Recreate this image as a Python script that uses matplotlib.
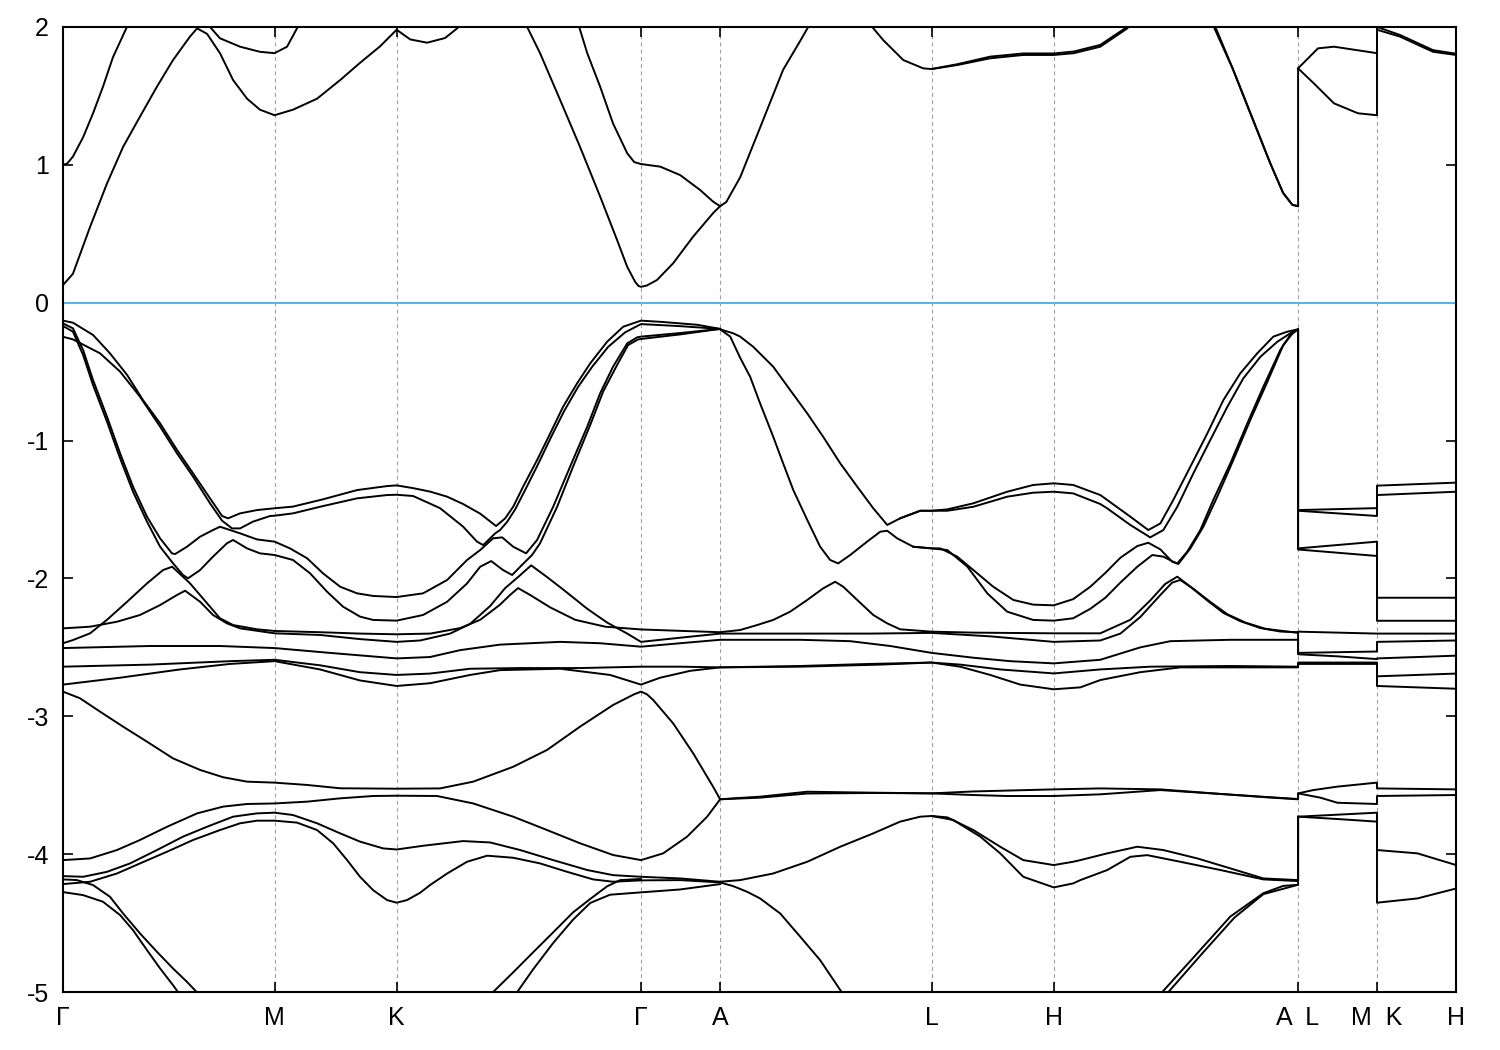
import matplotlib.pyplot as plt

plt.rcParams['font.family'] = ['Liberation Sans', 'DejaVu Sans']
plt.rcParams['axes.unicode_minus'] = False

# high-symmetry points along the k-path (|Gamma-M| = 1)
k_ticks = [0.0, 1.0, 1.5774, 2.7321, 3.1056, 4.1056, 4.6830, 5.8377, 6.2112, 6.5847]
k_labels = ['Γ', 'M', 'K', 'Γ', 'A', 'L', 'H', 'A  L', 'M  K', 'H']
e_ticks = [-5, -4, -3, -2, -1, 0, 1, 2]

# conduction bands, (k, E)
conduction = [
    [(0, 0.128), (0.047, 0.21), (0.128, 0.55), (0.208, 0.865), (0.284, 1.13), (0.364, 1.35), (0.444, 1.567),
     (0.52, 1.76), (0.6, 1.93), (0.634, 1.99), (0.681, 1.95), (0.742, 1.81), (0.804, 1.615), (0.87, 1.48),
     (0.931, 1.40), (1.0, 1.36), (1.087, 1.40), (1.201, 1.48), (1.31, 1.615), (1.404, 1.74), (1.499, 1.86),
     (1.577, 1.98), (1.641, 1.91), (1.721, 1.886), (1.806, 1.92), (1.863, 1.99), (1.901, 2.05)],
    [(2.17, 2.05), (2.194, 2.0), (2.255, 1.81), (2.35, 1.47), (2.444, 1.13), (2.539, 0.77), (2.619, 0.455),
     (2.667, 0.26), (2.705, 0.15), (2.72, 0.122), (2.732, 0.115), (2.76, 0.125), (2.808, 0.165), (2.884, 0.286),
     (2.979, 0.48), (3.073, 0.65), (3.106, 0.70), (3.135, 0.73), (3.201, 0.91), (3.295, 1.27), (3.404, 1.69),
     (3.485, 1.90), (3.541, 2.05)],
    [(0, 1.0), (0.02, 1.01), (0.047, 1.06), (0.095, 1.2), (0.142, 1.374), (0.189, 1.567), (0.236, 1.78),
     (0.284, 1.94), (0.317, 2.05)],
    [(2.421, 2.05), (2.44, 2.0), (2.478, 1.81), (2.539, 1.567), (2.6, 1.3), (2.667, 1.084), (2.7, 1.02),
     (2.732, 1.006), (2.823, 0.987), (2.917, 0.926), (3.012, 0.817), (3.073, 0.733), (3.106, 0.70)],
    [(0.676, 2.05), (0.695, 2.0), (0.742, 1.918), (0.837, 1.857), (0.931, 1.82), (1.0, 1.81), (1.059, 1.857),
     (1.106, 1.99), (1.116, 2.05)],
    [(3.806, 2.05), (3.825, 2.0), (3.877, 1.905), (3.972, 1.76), (4.066, 1.70), (4.106, 1.695), (4.227, 1.724),
     (4.383, 1.773), (4.539, 1.797), (4.683, 1.797), (4.778, 1.81), (4.903, 1.857), (5.031, 1.99), (5.05, 2.05)],
    [(4.106, 1.695), (4.227, 1.73), (4.383, 1.785), (4.539, 1.808), (4.683, 1.808), (4.778, 1.822), (4.903, 1.87),
     (5.02, 1.99), (5.04, 2.05)],
    [(5.433, 2.05), (5.447, 2.0), (5.532, 1.688), (5.626, 1.325), (5.707, 1.01), (5.768, 0.794), (5.811, 0.709),
     (5.838, 0.70), (5.838, 1.70), (5.932, 1.845), (6.008, 1.857), (6.211, 1.81), (6.211, 2.05)],
    [(5.425, 2.05), (5.44, 2.0), (5.528, 1.70), (5.622, 1.335), (5.704, 1.02), (5.766, 0.80), (5.81, 0.712),
     (5.838, 0.70)],
    [(5.838, 1.70), (5.913, 1.59), (6.008, 1.446), (6.121, 1.374), (6.211, 1.36), (6.211, 1.98), (6.32, 1.93),
     (6.476, 1.82), (6.585, 1.797)],
    [(6.211, 2.0), (6.32, 1.942), (6.476, 1.832), (6.585, 1.806)],
]

# upper valence bands (0 .. -2.3 eV)
valence_top = [
    [(0, -0.13), (0.047, -0.145), (0.142, -0.234), (0.222, -0.367), (0.303, -0.524), (0.378, -0.706),
     (0.459, -0.875), (0.539, -1.068), (0.615, -1.238), (0.695, -1.419), (0.752, -1.547), (0.78, -1.564),
     (0.837, -1.528), (0.917, -1.504), (1.0, -1.491), (1.087, -1.479), (1.229, -1.426), (1.39, -1.359),
     (1.532, -1.33), (1.577, -1.325), (1.655, -1.345), (1.735, -1.37), (1.816, -1.407), (1.891, -1.46),
     (1.972, -1.53), (2.047, -1.62), (2.09, -1.564), (2.128, -1.48), (2.175, -1.334), (2.241, -1.141),
     (2.303, -0.948), (2.364, -0.754), (2.43, -0.585), (2.492, -0.44), (2.572, -0.283), (2.648, -0.174),
     (2.732, -0.13), (2.837, -0.14), (2.998, -0.16), (3.106, -0.19)],
    [(0, -0.247), (0.047, -0.266), (0.175, -0.367), (0.27, -0.5), (0.364, -0.682), (0.459, -0.899),
     (0.539, -1.093), (0.615, -1.262), (0.695, -1.455), (0.752, -1.581), (0.799, -1.637), (0.837, -1.637),
     (0.898, -1.588), (0.979, -1.547), (1.0, -1.545), (1.087, -1.528), (1.229, -1.475), (1.39, -1.419),
     (1.532, -1.395), (1.577, -1.393), (1.655, -1.402), (1.782, -1.49), (1.891, -1.624), (1.957, -1.733),
     (1.986, -1.758), (2.019, -1.709), (2.043, -1.673), (2.066, -1.649), (2.099, -1.59), (2.137, -1.5),
     (2.184, -1.36), (2.246, -1.17), (2.307, -0.975), (2.369, -0.785), (2.435, -0.61), (2.501, -0.465),
     (2.577, -0.32), (2.657, -0.215), (2.732, -0.155), (2.917, -0.17), (3.106, -0.19)],
    [(0, -0.15), (0.047, -0.186), (0.095, -0.343), (0.142, -0.561), (0.208, -0.827), (0.27, -1.093),
     (0.331, -1.335), (0.397, -1.552), (0.459, -1.709), (0.515, -1.818), (0.53, -1.823), (0.586, -1.77),
     (0.648, -1.697), (0.709, -1.649), (0.742, -1.625), (0.79, -1.649), (0.837, -1.673), (0.917, -1.717),
     (1.0, -1.733), (1.073, -1.782), (1.154, -1.854), (1.229, -1.963), (1.31, -2.06), (1.39, -2.108),
     (1.466, -2.127), (1.577, -2.135), (1.702, -2.108), (1.816, -2.011), (1.91, -1.866), (1.972, -1.794),
     (2.033, -1.709), (2.076, -1.702), (2.128, -1.77), (2.189, -1.818), (2.241, -1.721), (2.317, -1.48),
     (2.397, -1.189), (2.478, -0.899), (2.539, -0.657), (2.6, -0.464), (2.667, -0.295), (2.714, -0.251),
     (2.732, -0.246), (2.917, -0.22), (3.106, -0.19)],
    [(0, -0.169), (0.047, -0.21), (0.095, -0.379), (0.142, -0.597), (0.208, -0.863), (0.27, -1.129),
     (0.331, -1.371), (0.397, -1.588), (0.459, -1.77), (0.52, -1.89), (0.567, -1.975), (0.591, -1.999),
     (0.648, -1.939), (0.709, -1.842), (0.775, -1.745), (0.804, -1.721), (0.87, -1.782), (0.931, -1.818),
     (1.0, -1.83), (1.087, -1.866), (1.168, -1.963), (1.248, -2.096), (1.324, -2.205), (1.404, -2.277),
     (1.466, -2.301), (1.577, -2.306), (1.702, -2.265), (1.816, -2.169), (1.91, -2.036), (1.972, -1.915),
     (2.024, -1.874), (2.08, -1.939), (2.123, -1.975), (2.161, -1.915), (2.217, -1.83), (2.255, -1.745),
     (2.336, -1.479), (2.411, -1.189), (2.492, -0.887), (2.553, -0.645), (2.619, -0.452), (2.671, -0.307),
     (2.719, -0.266), (2.732, -0.263), (2.917, -0.23), (3.106, -0.19)],
    [(3.106, -0.193), (3.168, -0.222), (3.201, -0.246), (3.262, -0.319), (3.357, -0.464), (3.437, -0.633),
     (3.518, -0.803), (3.593, -0.972), (3.674, -1.165), (3.754, -1.334), (3.83, -1.491), (3.896, -1.612),
     (3.957, -1.564), (4.052, -1.509), (4.106, -1.509), (4.18, -1.499), (4.303, -1.455), (4.463, -1.371),
     (4.586, -1.322), (4.683, -1.31), (4.775, -1.322), (4.903, -1.395), (4.936, -1.431), (5.045, -1.552),
     (5.13, -1.649), (5.187, -1.601), (5.248, -1.431), (5.329, -1.189), (5.409, -0.948), (5.485, -0.706),
     (5.565, -0.512), (5.645, -0.367), (5.721, -0.246), (5.787, -0.21), (5.838, -0.193), (5.838, -1.504),
     (6.211, -1.49), (6.211, -1.327), (6.585, -1.305)],
    [(3.957, -1.564), (4.052, -1.509), (4.106, -1.509), (4.18, -1.509), (4.303, -1.48), (4.463, -1.407),
     (4.586, -1.378), (4.683, -1.371), (4.775, -1.383), (4.903, -1.46), (4.936, -1.492), (5.045, -1.612),
     (5.139, -1.702), (5.201, -1.649), (5.267, -1.48), (5.343, -1.238), (5.423, -0.996), (5.504, -0.754),
     (5.579, -0.549), (5.66, -0.392), (5.74, -0.283), (5.801, -0.222), (5.838, -0.193), (5.838, -1.509),
     (6.211, -1.547), (6.211, -1.395), (6.585, -1.371)],
    [(3.106, -0.193), (3.154, -0.246), (3.201, -0.4), (3.248, -0.537), (3.295, -0.73), (3.357, -0.972),
     (3.404, -1.165), (3.452, -1.359), (3.518, -1.576), (3.579, -1.77), (3.626, -1.866), (3.664, -1.891),
     (3.721, -1.83), (3.801, -1.733), (3.863, -1.661), (3.896, -1.654), (3.943, -1.709), (4.019, -1.77),
     (4.106, -1.782), (4.147, -1.782), (4.227, -1.842), (4.303, -1.939), (4.397, -2.06), (4.492, -2.156),
     (4.586, -2.19), (4.683, -2.195), (4.775, -2.15), (4.856, -2.06), (4.927, -1.96), (4.998, -1.85),
     (5.078, -1.765), (5.13, -1.741), (5.187, -1.789), (5.243, -1.879), (5.267, -1.891), (5.314, -1.806),
     (5.376, -1.649), (5.437, -1.431), (5.518, -1.165), (5.598, -0.875), (5.674, -0.609), (5.754, -0.343),
     (5.801, -0.234), (5.838, -0.193), (5.838, -1.782), (6.211, -1.733), (6.211, -2.14), (6.585, -2.14)],
    [(4.019, -1.77), (4.106, -1.782), (4.18, -1.794), (4.275, -1.915), (4.369, -2.108), (4.463, -2.241),
     (4.586, -2.301), (4.683, -2.306), (4.775, -2.289), (4.856, -2.22), (4.927, -2.14), (4.998, -2.03),
     (5.078, -1.915), (5.149, -1.83), (5.201, -1.842), (5.248, -1.879), (5.272, -1.895), (5.329, -1.782),
     (5.39, -1.625), (5.456, -1.407), (5.532, -1.141), (5.612, -0.851), (5.693, -0.573), (5.768, -0.307),
     (5.815, -0.217), (5.838, -0.193), (5.838, -1.79), (6.211, -1.837), (6.211, -2.307), (6.585, -2.307)],
]

# flat band cluster (-2.3 .. -2.85 eV)
valence_cluster = [
    [(0, -2.47), (0.047, -2.447), (0.128, -2.398), (0.208, -2.3), (0.303, -2.169), (0.397, -2.036),
     (0.473, -1.939), (0.516, -1.915), (0.6, -2.035), (0.681, -2.18), (0.742, -2.289), (0.804, -2.338),
     (0.917, -2.369), (1.0, -2.381), (1.215, -2.39), (1.404, -2.4), (1.577, -2.405), (1.736, -2.4),
     (1.878, -2.36), (1.972, -2.3), (2.066, -2.19), (2.113, -2.12), (2.151, -2.07), (2.208, -2.12),
     (2.303, -2.21), (2.421, -2.3), (2.563, -2.35), (2.732, -2.37), (2.917, -2.38), (3.106, -2.39),
     (3.201, -2.374), (3.281, -2.338), (3.357, -2.301), (3.437, -2.241), (3.518, -2.156), (3.593, -2.072),
     (3.65, -2.024), (3.688, -2.06), (3.754, -2.156), (3.83, -2.265), (3.896, -2.326), (3.957, -2.369),
     (4.106, -2.386), (4.303, -2.393), (4.683, -2.398), (4.903, -2.398), (5.045, -2.3), (5.139, -2.16),
     (5.21, -2.04), (5.267, -1.987), (5.329, -2.06), (5.409, -2.16), (5.485, -2.25), (5.565, -2.31),
     (5.66, -2.36), (5.754, -2.385), (5.838, -2.39), (5.838, -2.386), (6.211, -2.4), (6.585, -2.4)],
    [(0, -2.362), (0.128, -2.35), (0.255, -2.314), (0.364, -2.265), (0.459, -2.193), (0.539, -2.12),
     (0.577, -2.089), (0.648, -2.169), (0.709, -2.265), (0.775, -2.326), (0.837, -2.362), (1.0, -2.398),
     (1.215, -2.41), (1.404, -2.44), (1.577, -2.46), (1.688, -2.45), (1.83, -2.4), (1.924, -2.33),
     (2.019, -2.2), (2.09, -2.07), (2.151, -1.99), (2.213, -1.905), (2.288, -1.99), (2.364, -2.08),
     (2.478, -2.22), (2.572, -2.32), (2.667, -2.4), (2.732, -2.46), (2.917, -2.43), (3.106, -2.4),
     (3.485, -2.4), (3.816, -2.4), (4.106, -2.395), (4.383, -2.42), (4.683, -2.46), (4.903, -2.45),
     (4.998, -2.4), (5.092, -2.28), (5.187, -2.12), (5.243, -2.03), (5.281, -2.011), (5.343, -2.075),
     (5.423, -2.17), (5.504, -2.26), (5.589, -2.32), (5.683, -2.365), (5.838, -2.395), (5.838, -2.54),
     (6.211, -2.53), (6.211, -2.46), (6.585, -2.45)],
    [(0, -2.505), (0.411, -2.49), (0.742, -2.49), (1.0, -2.505), (1.262, -2.54), (1.577, -2.58),
     (1.735, -2.57), (1.877, -2.52), (2.066, -2.48), (2.35, -2.46), (2.539, -2.47), (2.732, -2.495),
     (2.917, -2.47), (3.106, -2.445), (3.485, -2.445), (3.721, -2.455), (3.91, -2.49), (4.106, -2.54),
     (4.303, -2.575), (4.477, -2.6), (4.683, -2.616), (4.903, -2.59), (5.092, -2.5), (5.234, -2.455),
     (5.518, -2.445), (5.838, -2.445), (5.838, -2.55), (6.024, -2.565), (6.211, -2.585), (6.211, -2.58),
     (6.402, -2.57), (6.585, -2.56)],
    [(0, -2.64), (0.411, -2.625), (0.79, -2.6), (1.0, -2.59), (1.215, -2.63), (1.404, -2.68), (1.577, -2.7),
     (1.735, -2.69), (1.924, -2.655), (2.161, -2.65), (2.444, -2.65), (2.732, -2.64), (2.917, -2.64),
     (3.106, -2.645), (3.485, -2.64), (3.863, -2.625), (4.106, -2.61), (4.241, -2.625), (4.43, -2.66),
     (4.683, -2.689), (4.903, -2.66), (5.139, -2.64), (5.518, -2.635), (5.838, -2.64), (5.838, -2.61),
     (6.211, -2.61), (6.211, -2.71), (6.585, -2.69)],
    [(0, -2.77), (0.27, -2.72), (0.553, -2.66), (0.79, -2.62), (1.0, -2.6), (1.215, -2.66), (1.404, -2.74),
     (1.577, -2.78), (1.735, -2.76), (1.924, -2.7), (2.066, -2.665), (2.35, -2.655), (2.586, -2.7),
     (2.732, -2.77), (2.823, -2.72), (2.965, -2.67), (3.106, -2.645), (3.485, -2.635), (3.816, -2.62),
     (4.106, -2.61), (4.241, -2.64), (4.383, -2.7), (4.525, -2.77), (4.683, -2.804), (4.809, -2.79),
     (4.903, -2.737), (5.092, -2.68), (5.281, -2.645), (5.838, -2.645), (5.838, -2.62), (6.211, -2.62),
     (6.211, -2.78), (6.585, -2.8)],
]

# lower valence bands (-2.8 .. -5 eV)
valence_low = [
    [(0, -2.821), (0.08, -2.869), (0.175, -2.966), (0.284, -3.075), (0.397, -3.184), (0.52, -3.305),
     (0.648, -3.389), (0.757, -3.442), (0.87, -3.474), (1.0, -3.481), (1.154, -3.498), (1.31, -3.522),
     (1.577, -3.525), (1.782, -3.523), (1.939, -3.474), (2.128, -3.366), (2.288, -3.244), (2.444, -3.075),
     (2.6, -2.918), (2.7, -2.84), (2.732, -2.821), (2.76, -2.84), (2.79, -2.882), (2.884, -3.051),
     (2.979, -3.269), (3.073, -3.511), (3.106, -3.602), (3.168, -3.595), (3.295, -3.583), (3.518, -3.547),
     (3.83, -3.554), (4.106, -3.559), (4.303, -3.545), (4.683, -3.53), (4.903, -3.523), (5.187, -3.53),
     (5.437, -3.559), (5.693, -3.588), (5.838, -3.602), (5.838, -3.559), (5.91, -3.535), (6.024, -3.51),
     (6.211, -3.481), (6.211, -3.523), (6.585, -3.53)],
    [(0, -4.043), (0.128, -4.031), (0.255, -3.97), (0.364, -3.897), (0.492, -3.801), (0.634, -3.704),
     (0.757, -3.655), (0.87, -3.636), (1.0, -3.632), (1.154, -3.619), (1.31, -3.595), (1.466, -3.578),
     (1.577, -3.576), (1.768, -3.578), (1.939, -3.632), (2.128, -3.728), (2.288, -3.825), (2.444, -3.921),
     (2.6, -4.006), (2.732, -4.043), (2.837, -3.994), (2.95, -3.873), (3.045, -3.728), (3.106, -3.602),
     (3.295, -3.59), (3.518, -3.56), (3.83, -3.556), (4.106, -3.559), (4.303, -3.571), (4.463, -3.578),
     (4.683, -3.578), (4.903, -3.566), (5.187, -3.535), (5.437, -3.56), (5.838, -3.6), (5.838, -3.559),
     (5.943, -3.59), (6.024, -3.627), (6.211, -3.636), (6.211, -3.578), (6.585, -3.571)],
    [(0, -4.159), (0.095, -4.164), (0.208, -4.128), (0.317, -4.067), (0.444, -3.97), (0.567, -3.873),
     (0.681, -3.801), (0.804, -3.728), (0.917, -3.704), (1.0, -3.699), (1.087, -3.716), (1.201, -3.776),
     (1.31, -3.849), (1.404, -3.909), (1.513, -3.958), (1.577, -3.966), (1.702, -3.939), (1.891, -3.905),
     (2.019, -3.915), (2.161, -3.97), (2.317, -4.043), (2.478, -4.115), (2.6, -4.152), (2.732, -4.164),
     (2.917, -4.176), (3.106, -4.2), (3.201, -4.188), (3.357, -4.14), (3.518, -4.055), (3.674, -3.946),
     (3.83, -3.849), (3.957, -3.764), (4.052, -3.728), (4.106, -3.723), (4.18, -3.733), (4.303, -3.825),
     (4.43, -3.946), (4.539, -4.043), (4.683, -4.079), (4.775, -4.055), (4.809, -4.043), (4.936, -3.994),
     (5.078, -3.946), (5.201, -3.97), (5.362, -4.031), (5.518, -4.103), (5.674, -4.176), (5.838, -4.188),
     (5.838, -3.728), (6.211, -3.699), (6.211, -3.97), (6.402, -3.994), (6.585, -4.079)],
    [(0, -4.217), (0.128, -4.2), (0.255, -4.14), (0.364, -4.067), (0.492, -3.982), (0.615, -3.897),
     (0.742, -3.825), (0.837, -3.776), (0.917, -3.757), (1.0, -3.757), (1.106, -3.771), (1.201, -3.825),
     (1.277, -3.921), (1.343, -4.043), (1.404, -4.164), (1.466, -4.261), (1.532, -4.333), (1.577, -4.352),
     (1.626, -4.333), (1.688, -4.28), (1.735, -4.224), (1.816, -4.14), (1.91, -4.055), (2.005, -4.011),
     (2.128, -4.026), (2.255, -4.067), (2.383, -4.128), (2.506, -4.183), (2.6, -4.2), (2.732, -4.19),
     (2.917, -4.188), (3.106, -4.205), (3.168, -4.232), (3.234, -4.273), (3.295, -4.321), (3.39, -4.43),
     (3.485, -4.599), (3.579, -4.769), (3.683, -5.006), (3.72, -5.1)],
    [(4.106, -3.723), (4.208, -3.752), (4.336, -3.873), (4.43, -3.994), (4.539, -4.164), (4.683, -4.241),
     (4.775, -4.212), (4.809, -4.188), (4.936, -4.115), (5.045, -4.019), (5.125, -4.007), (5.281, -4.055),
     (5.471, -4.115), (5.674, -4.183), (5.838, -4.195), (5.838, -3.728), (6.024, -3.745), (6.211, -3.764),
     (6.211, -4.352), (6.402, -4.321), (6.585, -4.249)],
    [(0, -4.183), (0.066, -4.188), (0.142, -4.224), (0.222, -4.309), (0.284, -4.43), (0.364, -4.575),
     (0.444, -4.708), (0.52, -4.829), (0.586, -4.926), (0.638, -5.01), (0.671, -5.1)],
    [(0, -4.275), (0.095, -4.297), (0.189, -4.345), (0.27, -4.442), (0.331, -4.551), (0.397, -4.696),
     (0.459, -4.829), (0.52, -4.95), (0.548, -5.01), (0.577, -5.1)],
    [(2.005, -5.1), (2.033, -5.0), (2.128, -4.857), (2.222, -4.712), (2.317, -4.567), (2.411, -4.422),
     (2.492, -4.325), (2.572, -4.233), (2.634, -4.188), (2.732, -4.18)],
    [(2.118, -5.1), (2.147, -5.0), (2.222, -4.836), (2.317, -4.644), (2.411, -4.475), (2.492, -4.354),
     (2.586, -4.294), (2.732, -4.277), (2.917, -4.256), (3.106, -4.217)],
    [(5.163, -5.1), (5.196, -5.0), (5.362, -4.718), (5.518, -4.452), (5.674, -4.283), (5.768, -4.23),
     (5.838, -4.222), (5.838, -3.728)],
    [(5.196, -5.1), (5.225, -5.0), (5.385, -4.72), (5.537, -4.46), (5.674, -4.29), (5.838, -4.222)],
]

fig = plt.figure(figsize=(15, 10.5), dpi=100)
ax = fig.add_axes([0.042, 0.0552, 0.9287, 0.9191])

for grp in (conduction, valence_top, valence_cluster, valence_low):
    for band in grp:
        k, e = zip(*band)
        ax.plot(k, e, color='black', lw=1.4, solid_joinstyle='round', zorder=3)

ax.axhline(0, color='#56b4e9', lw=1.5, zorder=2)

for kt in k_ticks[1:-1]:
    ax.axvline(kt, color='#a0a0a0', lw=0.8, ls=(0, (3.5, 3)), zorder=1)

ax.set_xlim(k_ticks[0], k_ticks[-1])
ax.set_ylim(-5, 2)
ax.set_xticks(k_ticks)
ax.set_xticklabels(k_labels)
ax.set_yticks(e_ticks)
ax.tick_params(direction='in', length=7, width=1.2, labelsize=18, pad=10,
               top=True, right=True)
for sp in ax.spines.values():
    sp.set_linewidth(1.5)

fig.savefig('out.png', dpi=100)
